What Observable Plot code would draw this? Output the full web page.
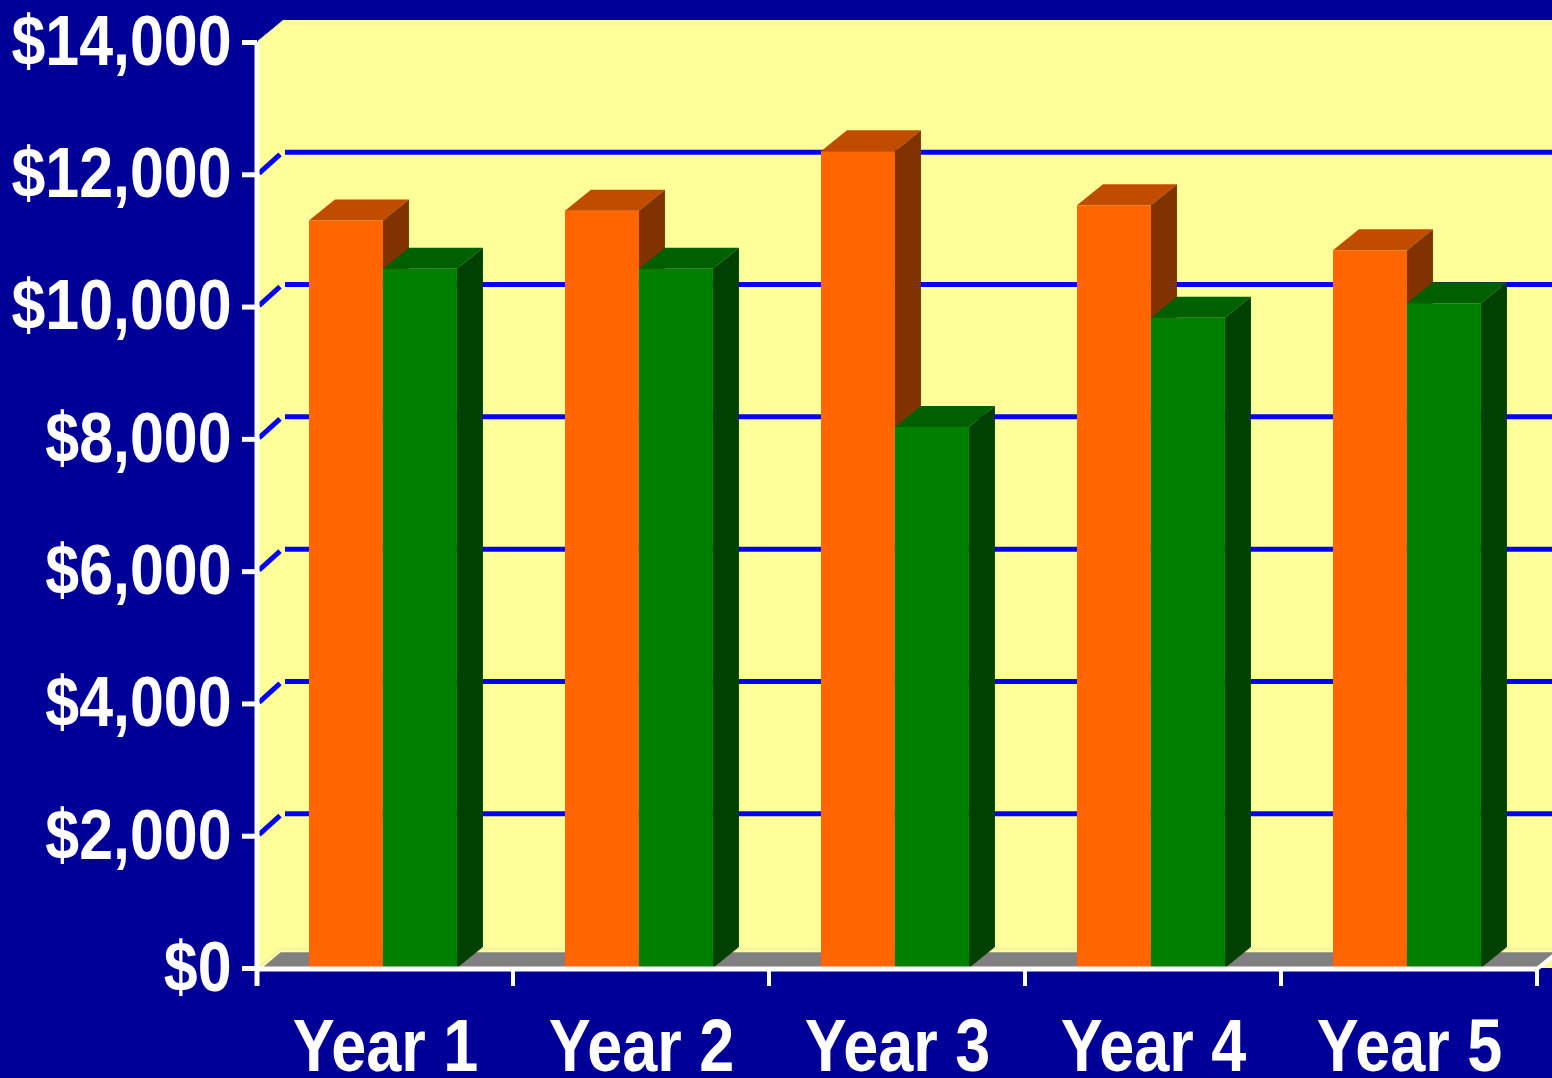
<!DOCTYPE html>
<html>
<head>
<meta charset="utf-8">
<script src="https://cdn.jsdelivr.net/npm/d3@7"></script>
<script src="https://cdn.jsdelivr.net/npm/@observablehq/plot@0.6"></script>
<style>
  html, body { margin: 0; padding: 0; background: #000099; overflow: hidden; }
  #chart svg { display: block; }
</style>
</head>
<body>
<div id="chart"></div>
<script>
// ---- data ----
const years = ["Year 1", "Year 2", "Year 3", "Year 4", "Year 5"];
const seriesOrange = [11300, 11450, 12350, 11530, 10850];
const seriesGreen = [10570, 10570, 8180, 9830, 10050];
const yTicks = [0, 2000, 4000, 6000, 8000, 10000, 12000, 14000];
const gridValues = [2000, 4000, 6000, 8000, 10000, 12000];

// ---- styles ----
const FONT = "'Liberation Sans', Arial, Helvetica, sans-serif";
const BG = "#000099";
const WALL = "#FFFF99";
const FLOOR = "#808080";
const GRID = "#0000FF";
const palette = [
  {front: "#FF6600", top: "#C04C00", side: "#803300"},
  {front: "#008000", top: "#005F00", side: "#004000"}
];
const DEPTH = {dx: 26, dy: -22};
const BAR = {offset: 0.203, width: 0.289, dx: 26, dy: -21};
const Y_LABEL_SQUEEZE = 0.87;
const X_LABEL_SQUEEZE = 0.84;

const rows = years.flatMap((year, i) => [
  {year, series: 0, value: seriesOrange[i]},
  {year, series: 1, value: seriesGreen[i]}
]);

function scene(index, scales, values, dims) {
  const {x, y} = scales;
  const step = x(years[1]) - x(years[0]);
  const left = x(years[0]);
  const right = x(years[years.length - 1]) + step;
  const base = y(0);
  const top = y(yTicks[yTicks.length - 1]);
  const {dx, dy} = DEPTH;
  const W = dims.width;
  const g = d3.create("svg:g");
  const poly = (pts, fill) => g.append("polygon")
    .attr("points", pts.map(p => p.join(",")).join(" "))
    .attr("fill", fill);
  const line = (x1, y1, x2, y2, stroke, sw) => g.append("line")
    .attr("x1", x1).attr("y1", y1).attr("x2", x2).attr("y2", y2)
    .attr("stroke", stroke).attr("stroke-width", sw);

  // walls (side + back)
  poly([[left, top], [left + dx, top + dy], [W, top + dy], [W, base], [left, base]], WALL);
  line(left + dx, top + dy + 4, W, top + dy + 4, "#EDEDA8", 1);
  line(left + 1, top - 1, left + dx, top + dy + 1, "#E6E6B8", 1);
  // floor
  const f = 0.72;
  line(left + dx, base + dy + 3, W, base + dy + 3, "#E8E8B8", 1);
  line(left + 1, base - 1, left + dx, base + dy + 1, "#E6E6B8", 1);
  poly([[left + 5, base], [right, base], [right + dx * f, base + dy * f], [left + 5 + dx * f, base + dy * f]], FLOOR);

  // gridlines
  for (const v of gridValues) {
    const yy = y(v);
    line(left + 2, yy - 1, left + dx - 3, yy + dy + 2, GRID, 5);
    line(left + dx + 2, yy + dy, W, yy + dy, GRID, 5);
  }

  // bars
  for (const r of rows) {
    const c = palette[r.series];
    const w = BAR.width * step;
    const xs = x(r.year) + BAR.offset * step + r.series * w;
    const yv = y(r.value);
    g.append("rect").attr("x", xs).attr("y", yv).attr("width", w).attr("height", base - yv).attr("fill", c.front);
    poly([[xs, yv], [xs + w, yv], [xs + w + BAR.dx, yv + BAR.dy], [xs + BAR.dx, yv + BAR.dy]], c.top);
    poly([[xs + w, yv], [xs + w + BAR.dx, yv + BAR.dy], [xs + w + BAR.dx, base + BAR.dy], [xs + w, base]], c.side);
  }

  // front axis lines
  line(left, top, left, base + 18, "white", 5);
  line(left, base + 1, right, base + 1, "white", 5);
  line(right, base + 1, right + dx, base + dy + 2, "white", 4);
  for (let i = 0; i <= years.length; i++) {
    const xx = left + i * step;
    line(xx, base, xx, base + 18, "white", 4);
  }
  return g.node();
}

const chart = Plot.plot({
  width: 1552,
  height: 1078,
  marginLeft: 257,
  marginRight: 15,
  marginTop: 42,
  marginBottom: 110,
  style: {background: BG, color: "white", fontFamily: FONT, fontWeight: "bold", overflow: "visible"},
  x: {type: "band", domain: years, padding: 0},
  y: {domain: [0, 14000]},
  marks: [
    scene,
    Plot.axisY({
      ticks: yTicks,
      tickFormat: d => "$" + d3.format(",")(d),
      tickSize: 15,
      tickPadding: 11,
      strokeWidth: 5,
      fontSize: 70,
      fontFamily: FONT,
      fontWeight: "bold",
      label: null
    }),
    Plot.axisX({
      tickSize: 0,
      tickPadding: 49,
      fontSize: 75,
      fontFamily: FONT,
      fontWeight: "bold",
      label: null
    })
  ]
});

// condense the tick labels horizontally around their anchor points (Arial Narrow look)
function squeeze(selector, s) {
  chart.querySelectorAll(selector).forEach(t => {
    const tr = t.getAttribute("transform") || "";
    const m = tr.match(/translate\(\s*([-\d.e]+)[ ,]+([-\d.e]+)\s*\)/);
    const px = (m ? +m[1] : 0) + (+t.getAttribute("x") || 0);
    const py = (m ? +m[2] : 0) + (+t.getAttribute("y") || 0);
    t.setAttribute("transform", `translate(${px},${py}) scale(${s},1) translate(${-px},${-py}) ${tr}`);
  });
}
squeeze('g[aria-label="y-axis tick label"] text', Y_LABEL_SQUEEZE);
squeeze('g[aria-label="x-axis tick label"] text', X_LABEL_SQUEEZE);

document.getElementById("chart").appendChild(chart);
</script>
</body>
</html>
